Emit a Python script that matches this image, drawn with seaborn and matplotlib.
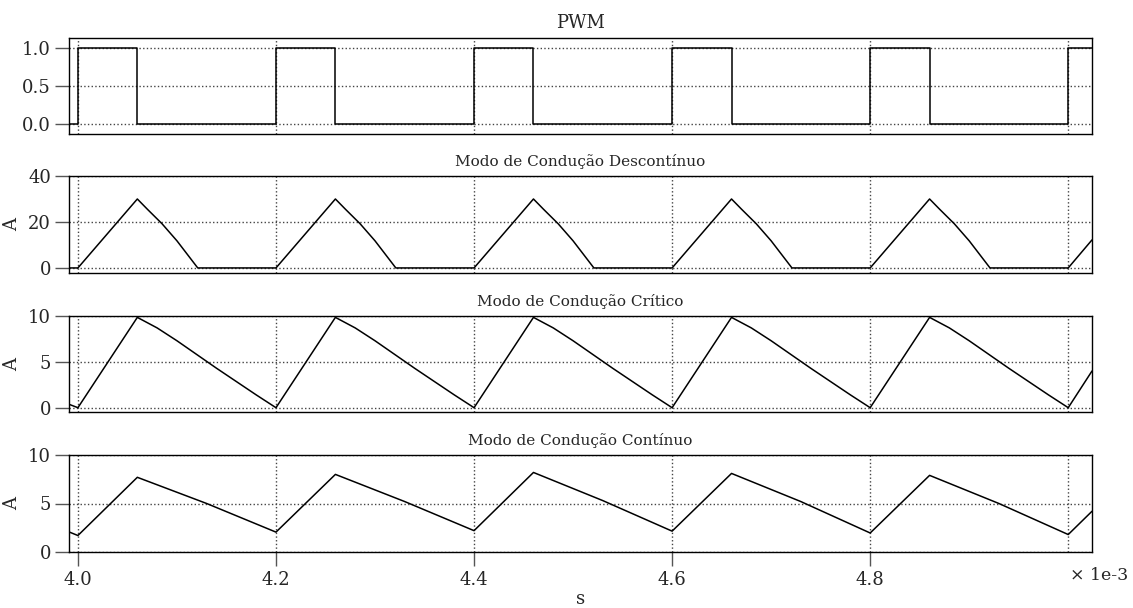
import matplotlib
matplotlib.use("Agg")
import matplotlib.pyplot as plt
import seaborn as sns
import numpy as np

# ---------------- data (time in ms, i.e. x 1e-3 s) ----------------
pwm_t = [3.991, 4.0, 4.06, 4.2, 4.26, 4.4, 4.46, 4.6, 4.66, 4.8, 4.86, 5.0, 5.024]
pwm_v = [0, 1, 0, 1, 0, 1, 0, 1, 0, 1, 0, 1, 1]

dcm_t = [3.991, 4.0, 4.06, 4.07, 4.085, 4.10, 4.121,
         4.2, 4.26, 4.27, 4.285, 4.30, 4.321,
         4.4, 4.46, 4.47, 4.485, 4.50, 4.521,
         4.6, 4.66, 4.67, 4.685, 4.70, 4.721,
         4.8, 4.86, 4.87, 4.885, 4.90, 4.921,
         5.0, 5.024]
dcm_i = [0, 0, 30, 25.6, 19.2, 11.8, 0,
         0, 30, 25.6, 19.2, 11.8, 0,
         0, 30, 25.6, 19.2, 11.8, 0,
         0, 30, 25.6, 19.2, 11.8, 0,
         0, 30, 25.6, 19.2, 11.8, 0,
         0, 12.2]

crm_t = [3.991, 4.0, 4.06, 4.08, 4.10, 4.12, 4.14, 4.16, 4.18,
         4.2, 4.26, 4.28, 4.30, 4.32, 4.34, 4.36, 4.38,
         4.4, 4.46, 4.48, 4.50, 4.52, 4.54, 4.56, 4.58,
         4.6, 4.66, 4.68, 4.70, 4.72, 4.74, 4.76, 4.78,
         4.8, 4.86, 4.88, 4.90, 4.92, 4.94, 4.96, 4.98,
         5.0, 5.024]
crm_i = [0.37, 0, 9.85, 8.7, 7.3, 5.8, 4.3, 2.85, 1.4,
         0, 9.85, 8.7, 7.3, 5.8, 4.3, 2.85, 1.4,
         0, 9.85, 8.7, 7.3, 5.8, 4.3, 2.85, 1.4,
         0, 9.85, 8.7, 7.3, 5.8, 4.3, 2.85, 1.4,
         0, 9.85, 8.7, 7.3, 5.8, 4.3, 2.85, 1.4,
         0, 4.0]

ccm_t = [3.991, 4.0, 4.06, 4.13, 4.2, 4.26, 4.33, 4.4, 4.46, 4.53,
         4.6, 4.66, 4.73, 4.8, 4.86, 4.93, 5.0, 5.024]
ccm_i = [2.07, 1.7, 7.7, 5.0, 2.05, 8.0, 5.2, 2.2, 8.2, 5.3,
         2.15, 8.1, 5.2, 1.96, 7.9, 5.0, 1.8, 4.2]

titles = ["PWM", "Modo de Condução Descontínuo", "Modo de Condução Crítico",
          "Modo de Condução Contínuo"]
ylabels = ["", "A", "A", "A"]
yticks = [[0.0, 0.5, 1.0], [0, 20, 40], [0, 5, 10], [0, 5, 10]]
ytick_labels = [["0.0", "0.5", "1.0"], ["0", "20", "40"], ["0", "5", "10"], ["0", "5", "10"]]
ylims = [(-0.13, 1.13), (-2.2, 40), (-0.47, 10), (0, 10)]
xticks = [4.0, 4.2, 4.4, 4.6, 4.8, 5.0]
xtick_labels = ["4.0", "4.2", "4.4", "4.6", "4.8", ""]

# ---------------- style ----------------
sns.set_style("white")
plt.rcParams["font.family"] = ["DejaVu Serif"]
plt.rcParams["mathtext.fontset"] = "dejavuserif"
FS_TICK = 13
FS_TITLE = 11

fig = plt.figure(figsize=(11.33, 6.08), dpi=100)
L, W = 69 / 1133, (1092 - 69) / 1133
boxes = [(38, 134), (176, 273), (316, 412), (455, 552)]
axes = []
for top, bot in boxes:
    ax = fig.add_axes([L, 1 - bot / 608, W, (bot - top) / 608])
    axes.append(ax)

series = [(pwm_t, pwm_v), (dcm_t, dcm_i), (crm_t, crm_i), (ccm_t, ccm_i)]
for k, (ax, (t, v)) in enumerate(zip(axes, series)):
    kw = dict(drawstyle="steps-post") if k == 0 else {}
    sns.lineplot(x=t, y=v, ax=ax, color="black", linewidth=1.1,
                 estimator=None, sort=False, **kw)
    ax.set_xlim(3.991, 5.024)
    ax.set_ylim(*ylims[k])
    ax.set_yticks(yticks[k])
    ax.set_yticklabels(ytick_labels[k])
    ax.set_xticks(xticks)
    ax.grid(True, color="#444444", linestyle=":", linewidth=1.0)
    for s in ax.spines.values():
        s.set_visible(True)
        s.set_color("black")
        s.set_linewidth(1.0)
    ax.tick_params(axis="y", direction="out", length=10, width=1, color="#555555",
                   labelsize=FS_TICK, left=True, pad=3)
    ax.set_title(titles[k], fontsize=13 if k == 0 else FS_TITLE, pad=7)
    ax.set_ylabel(ylabels[k], fontsize=FS_TICK, labelpad=5)
    if k < 3:
        ax.tick_params(axis="x", bottom=False, labelbottom=False)
    else:
        ax.set_xticklabels(xtick_labels)
        ax.tick_params(axis="x", direction="out", length=10, width=1, color="#555555",
                       labelsize=FS_TICK, bottom=True, pad=4)
        ax.xaxis.get_major_ticks()[-1].tick1line.set_visible(False)
        ax.set_xlabel("s", fontsize=13, va="center")
        ax.xaxis.set_label_coords(0.5, -0.48)

fig.text(1099 / 1133, 1 - 575 / 608, "× 1e-3", ha="center", va="center", fontsize=12.5)

fig.savefig("out.png", dpi=100)
